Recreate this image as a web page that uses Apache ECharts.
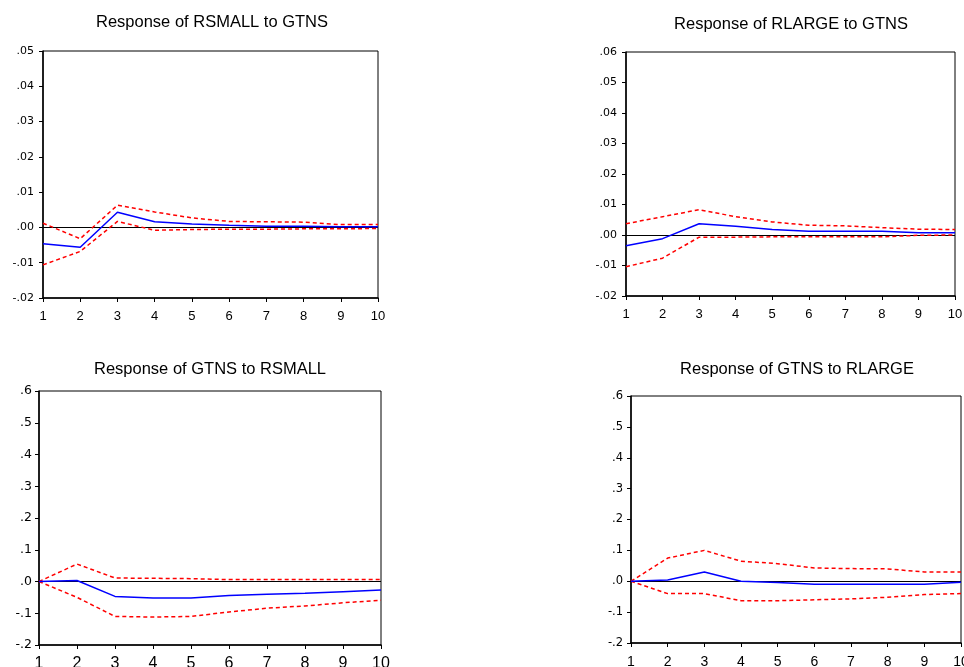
<!DOCTYPE html>
<html>
<head>
<meta charset="utf-8">
<script src="https://cdn.jsdelivr.net/npm/echarts@6/dist/echarts.min.js"></script>
<style>html,body{margin:0;padding:0;background:#fff;}#c{width:964px;height:667px;}</style>
</head>
<body>
<div id="c"></div>
<script>
const periods = ['1','2','3','4','5','6','7','8','9','10'];

const titles = ['Response of RSMALL to GTNS','Response of RLARGE to GTNS','Response of GTNS to RSMALL','Response of GTNS to RLARGE'];

// Panel 1: RSMALL to GTNS
const p1Resp  = [-0.0046,-0.0056,0.0043,0.0016,0.0010,0.0006,0.0003,0.0003,0.0002,0.0002];
const p1Upper = [0.0012,-0.0032,0.0063,0.0044,0.0027,0.0017,0.0016,0.0015,0.0008,0.0008];
const p1Lower = [-0.0106,-0.0068,0.0017,-0.0008,-0.0006,-0.0005,-0.0005,-0.0004,-0.0004,-0.0003];

// Panel 2: RLARGE to GTNS
const p2Resp  = [-0.0035,-0.0012,0.0037,0.0029,0.0018,0.0012,0.0012,0.0012,0.0007,0.0007];
const p2Upper = [0.0037,0.0060,0.0083,0.0060,0.0043,0.0032,0.0030,0.0024,0.0019,0.0018];
const p2Lower = [-0.0104,-0.0076,-0.0007,-0.0007,-0.0006,-0.0006,-0.0006,-0.0006,-0.0001,0.0000];

// Panel 3: GTNS to RSMALL
const p3Resp  = [0.000,0.003,-0.047,-0.052,-0.052,-0.044,-0.040,-0.037,-0.032,-0.027];
const p3Upper = [0.000,0.055,0.011,0.010,0.009,0.006,0.006,0.006,0.006,0.006];
const p3Lower = [0.000,-0.050,-0.110,-0.112,-0.110,-0.096,-0.084,-0.077,-0.067,-0.059];

// Panel 4: GTNS to RLARGE
const p4Resp  = [0.000,0.004,0.030,0.000,-0.004,-0.010,-0.010,-0.010,-0.010,-0.003];
const p4Upper = [0.000,0.075,0.100,0.065,0.057,0.043,0.041,0.040,0.030,0.030];
const p4Lower = [0.000,-0.040,-0.040,-0.063,-0.063,-0.060,-0.057,-0.052,-0.043,-0.040];

const yRanges = [
  {min:-0.02, max:0.05, interval:0.01, dec:2},
  {min:-0.02, max:0.06, interval:0.01, dec:2},
  {min:-0.2,  max:0.6,  interval:0.1,  dec:1},
  {min:-0.2,  max:0.6,  interval:0.1,  dec:1}
];
const panels = [
  [p1Resp,p1Upper,p1Lower],
  [p2Resp,p2Upper,p2Lower],
  [p3Resp,p3Upper,p3Lower],
  [p4Resp,p4Upper,p4Lower]
];

const grids = [
  {left:43, top:51, width:335, height:247},
  {left:626, top:52, width:329, height:244},
  {left:39, top:391, width:342, height:254},
  {left:631, top:396, width:330, height:247}
];
const titlePos = [[207,9],[786,11],[205,356],[792,356]];
const xFont = [{size:13, margin:12},{size:13, margin:12},{size:16, margin:11},{size:14, margin:12}];
const yFont = [{size:11, margin:9},{size:11, margin:9},{size:12.5, margin:7},{size:11.5, margin:8}];

const font = 'Liberation Sans, Arial, sans-serif';
const tickFont = 'DejaVu Sans, sans-serif';

function fmt(dec){
  return function(v){
    let s = Number(v).toFixed(dec);
    if (Math.abs(Number(s)) < 1e-9) s = (0).toFixed(dec);
    return s.replace(/^(-?)0\./,'$1.');
  };
}

const option = {
  animation:false,
  backgroundColor:'#fff',
  title: titles.map((t,i)=>({
    text:t, left:titlePos[i][0], top:titlePos[i][1], textAlign:'center',
    textStyle:{fontFamily:font, fontSize:16.5, fontWeight:'normal', color:'#000'}
  })),
  grid: grids.map(g=>Object.assign({show:true, borderColor:'#000', borderWidth:1, backgroundColor:'#fff', containLabel:false, outerBoundsMode:'none'}, g)),
  xAxis: grids.map((g,i)=>({
    type:'category', gridIndex:i, data:periods, boundaryGap:false,
    axisLine:{show:true, onZero:false, lineStyle:{color:'#000', width:1.5}},
    axisTick:{show:true, inside:false, length:4, alignWithLabel:true, lineStyle:{color:'#000'}},
    axisLabel:{fontFamily:font, fontSize:xFont[i].size, color:'#000', margin:xFont[i].margin, interval:0},
    splitLine:{show:false}
  })),
  yAxis: yRanges.map((r,i)=>({
    type:'value', gridIndex:i, min:r.min, max:r.max, interval:r.interval,
    axisLine:{show:true, lineStyle:{color:'#000', width:1.5}},
    axisTick:{show:true, inside:false, length:4, lineStyle:{color:'#000'}},
    axisLabel:{fontFamily:tickFont, fontSize:yFont[i].size, color:'#000', margin:yFont[i].margin, formatter:fmt(r.dec)},
    splitLine:{show:false}
  })),
  series: []
};

panels.forEach((p,i)=>{
  option.series.push({
    type:'line', xAxisIndex:i, yAxisIndex:i, data:p[1], symbol:'none',
    lineStyle:{color:'#ff0000', width:1.5, type:[4,3]}, z:3
  });
  option.series.push({
    type:'line', xAxisIndex:i, yAxisIndex:i, data:p[2], symbol:'none',
    lineStyle:{color:'#ff0000', width:1.5, type:[4,3]}, z:3
  });
  option.series.push({
    type:'line', xAxisIndex:i, yAxisIndex:i, data:p[0], symbol:'none',
    lineStyle:{color:'#0000ff', width:1.5}, z:4,
    markLine:{silent:true, symbol:'none', label:{show:false},
      lineStyle:{color:'#000', width:1.2, type:'solid'}, data:[{yAxis:0}], z:2}
  });
});

const chart = echarts.init(document.getElementById('c'));
chart.setOption(option);
</script>
</body>
</html>
